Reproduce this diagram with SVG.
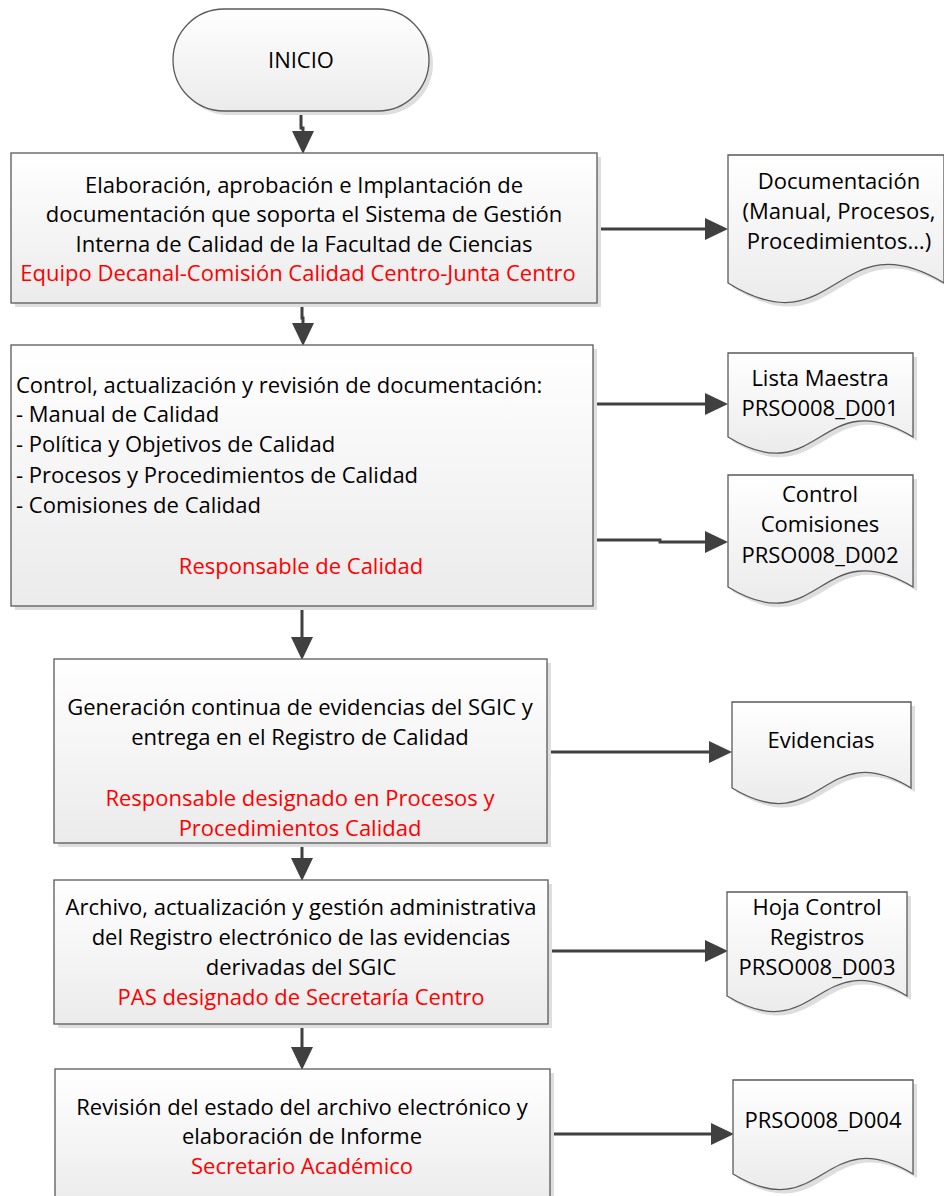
<svg xmlns="http://www.w3.org/2000/svg" width="944" height="1196" viewBox="0 0 944 1196">
<defs>
<linearGradient id="g" x1="0" y1="0" x2="0" y2="1">
<stop offset="0" stop-color="#ffffff"/>
<stop offset="1" stop-color="#ebebeb"/>
</linearGradient>
<marker id="ah" markerUnits="userSpaceOnUse" markerWidth="24" markerHeight="24" viewBox="0 0 24 24" refX="18" refY="12" orient="auto">
<path d="M0,1 L23,12 L0,23 Z" fill="#404040"/>
</marker>
</defs>
<style>
.shape{fill:url(#g);stroke:#5a5a5a;stroke-width:1.3}
.shadow{fill:#dedede}
.t{font-family:"Open Sans","Liberation Sans",Arial,sans-serif;font-size:22px;fill:#000}
.c{text-anchor:middle}
.r{fill:#ff0000}
.con{fill:none;stroke:#404040;stroke-width:3;marker-end:url(#ah)}
</style>
<rect width="944" height="1196" fill="#ffffff"/>

<g id="connectors">
<path class="con" d="M301,111 V128 H303 V149"/>
<path class="con" d="M598,229 H723"/>
<path class="con" d="M302,303 V318 H303 V341"/>
<path class="con" d="M593,404 H723"/>
<path class="con" d="M593,540 H660 V542 H723"/>
<path class="con" d="M302,606 V655"/>
<path class="con" d="M547,752 H727"/>
<path class="con" d="M302,843 V876"/>
<path class="con" d="M548,951 H723"/>
<path class="con" d="M302,1024 V1065"/>
<path class="con" d="M550,1134 H729"/>
</g>

<g id="inicio">
<rect class="shadow" x="177" y="13" width="256" height="102" rx="51"/>
<rect class="shape" x="173" y="9" width="256" height="102" rx="51"/>
<text class="t c" x="301" y="68">INICIO</text>
</g>

<g id="box1">
<rect class="shadow" x="15" y="157" width="586" height="150"/>
<rect class="shape" x="11" y="153" width="586" height="150"/>
<text class="t c" x="304" y="193">Elaboración, aprobación e Implantación de</text>
<text class="t c" x="304" y="222">documentación que soporta el Sistema de Gestión</text>
<text class="t c" x="304" y="252">Interna de Calidad de la Facultad de Ciencias</text>
<text class="t c r" x="298" y="281">Equipo Decanal-Comisión Calidad Centro-Junta Centro</text>
</g>

<g id="doc1">
<path class="shadow" d="M732,159 H948 V287 C840,222 840,354 732,287 Z"/>
<path class="shape" d="M728,155 H944 V283 C836,218 836,350 728,283 Z"/>
<text class="t c" x="839" y="189">Documentación</text>
<text class="t c" x="839" y="219">(Manual, Procesos,</text>
<text class="t c" x="839" y="249">Procedimientos…)</text>
</g>

<g id="box2">
<rect class="shadow" x="15" y="349" width="582" height="261"/>
<rect class="shape" x="11" y="345" width="582" height="261"/>
<text class="t" x="16" y="393">Control, actualización y revisión de documentación:</text>
<text class="t" x="16" y="422">- Manual de Calidad</text>
<text class="t" x="16" y="452">- Política y Objetivos de Calidad</text>
<text class="t" x="16" y="483">- Procesos y Procedimientos de Calidad</text>
<text class="t" x="16" y="513">- Comisiones de Calidad</text>
<text class="t c r" x="301" y="574">Responsable de Calidad</text>
</g>

<g id="doc2">
<path class="shadow" d="M732,357 H917 V441 C824,385 824,497 732,441 Z"/>
<path class="shape" d="M728,353 H913 V437 C820,381 820,493 728,437 Z"/>
<text class="t c" x="820" y="386">Lista Maestra</text>
<text class="t c" x="820" y="416">PRSO008_D001</text>
</g>

<g id="doc3">
<path class="shadow" d="M732,479 H917 V591 C824,535 824,647 732,591 Z"/>
<path class="shape" d="M728,475 H913 V587 C820,531 820,643 728,587 Z"/>
<text class="t c" x="820" y="502">Control</text>
<text class="t c" x="820" y="532">Comisiones</text>
<text class="t c" x="820" y="563">PRSO008_D002</text>
</g>

<g id="box3">
<rect class="shadow" x="58" y="663" width="493" height="184"/>
<rect class="shape" x="54" y="659" width="493" height="184"/>
<text class="t c" x="300" y="715">Generación continua de evidencias del SGIC y</text>
<text class="t c" x="300" y="745">entrega en el Registro de Calidad</text>
<text class="t c r" x="300" y="806">Responsable designado en Procesos y</text>
<text class="t c r" x="300" y="836">Procedimientos Calidad</text>
</g>

<g id="doc4">
<path class="shadow" d="M736,706 H915 V792 C826,738 826,846 736,792 Z"/>
<path class="shape" d="M732,702 H911 V788 C822,734 822,842 732,788 Z"/>
<text class="t c" x="821" y="748">Evidencias</text>
</g>

<g id="box4">
<rect class="shadow" x="58" y="884" width="494" height="144"/>
<rect class="shape" x="54" y="880" width="494" height="144"/>
<text class="t c" x="301" y="915">Archivo, actualización y gestión administrativa</text>
<text class="t c" x="301" y="945">del Registro electrónico de las evidencias</text>
<text class="t c" x="301" y="975">derivadas del SGIC</text>
<text class="t c r" x="301" y="1005">PAS designado de Secretaría Centro</text>
</g>

<g id="doc5">
<path class="shadow" d="M731,896 H911 V1000 C821,946 821,1054 731,1000 Z"/>
<path class="shape" d="M727,892 H907 V996 C817,942 817,1050 727,996 Z"/>
<text class="t c" x="817" y="915">Hoja Control</text>
<text class="t c" x="817" y="945">Registros</text>
<text class="t c" x="817" y="975">PRSO008_D003</text>
</g>

<g id="box5">
<rect class="shadow" x="59" y="1073" width="495" height="140"/>
<rect class="shape" x="55" y="1069" width="495" height="140"/>
<text class="t c" x="302" y="1115">Revisión del estado del archivo electrónico  y</text>
<text class="t c" x="302" y="1144">elaboración de Informe</text>
<text class="t c r" x="302" y="1174">Secretario Académico</text>
</g>

<g id="doc6">
<path class="shadow" d="M737,1084 H917 V1178 C827,1124 827,1232 737,1178 Z"/>
<path class="shape" d="M733,1080 H913 V1174 C823,1120 823,1228 733,1174 Z"/>
<text class="t c" x="823" y="1128">PRSO008_D004</text>
</g>
</svg>
